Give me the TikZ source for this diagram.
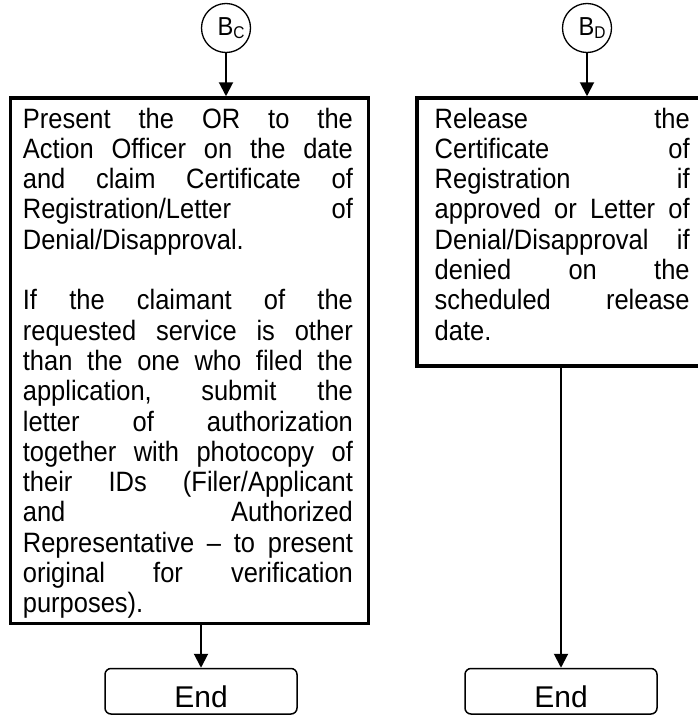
\documentclass[tikz,border=0pt]{standalone}
\usepackage{fontspec}
\setmainfont{Liberation Sans}[FakeStretch=0.91]
\newfontfamily\endfont{Liberation Sans}
\usetikzlibrary{arrows.meta, positioning}
\tolerance=10000
\hbadness=10000
\hyphenpenalty=10000

\begin{document}
\begin{tikzpicture}[x=1pt, y=-1pt,
    every node/.style={font=\fontsize{28}{30.3}\selectfont},
    frame/.style={rectangle, draw, line width=3.5pt, inner sep=0pt},
    body/.style={inner sep=0pt, align=justify, anchor=base west},
    conn/.style={circle, draw, line width=1.3pt, minimum size=49pt, inner sep=0pt,
                 font=\fontsize{26}{26}\selectfont},
    term/.style={rectangle, draw, rounded corners=6pt, line width=1.5pt, inner sep=0pt,
                 minimum width=192pt, minimum height=45.5pt, text height=32pt, text depth=0pt,
                 font=\endfont\fontsize{30}{30}\selectfont},
    fl/.style={-{Triangle[length=14pt, width=14pt]}, line width=2pt}
]
    \useasboundingbox (0,0) rectangle (698,715);

    % column C
    \node[conn] (bc) at (226,28) {\hspace*{10pt}B\raisebox{-3pt}{\fontsize{17}{17}\selectfont C}};
    \node[frame, minimum width=358.4pt, minimum height=525.5pt] (boxc) at (189.5,360.75) {};
    \node[body, text width=330pt] (txtc) at (22.7,128) {%
        Present the OR to the\linebreak
        Action Officer on the date\linebreak
        and claim Certificate of\linebreak
        Registration/Letter of\linebreak
        Denial/Disapproval.\par
        \vspace{30.3pt}
        If the claimant of the\linebreak
        requested service is other\linebreak
        than the one who filed the\linebreak
        application, submit the\linebreak
        letter of authorization\linebreak
        together with photocopy of\linebreak
        their IDs (Filer/Applicant\linebreak
        and Authorized\linebreak
        Representative – to present\linebreak
        original for verification\linebreak
        purposes).};
    \node[term] (termc) at (201,691.25) {End};

    % column D
    \node[conn] (bd) at (587,28) {\hspace*{10pt}B\raisebox{-3pt}{\fontsize{17}{17}\selectfont D}};
    \node[frame, minimum width=295pt, minimum height=268pt] (boxd) at (564.5,232) {};
    \node[body, text width=255pt] (txtd) at (434.5,128) {%
        Release the\linebreak
        Certificate of\linebreak
        Registration if\linebreak
        approved or Letter of\linebreak
        Denial/Disapproval if\linebreak
        denied on the\linebreak
        scheduled release\linebreak
        date.};
    \node[term] (termd) at (561,691.25) {End};

    \draw[fl] (bc) -- (bc |- boxc.north);
    \draw[fl] (bd) -- (bd |- boxd.north);
    \draw[fl] (boxc.south -| termc) -- (termc);
    \draw[fl] (boxd.south -| termd) -- (termd);
\end{tikzpicture}
\end{document}
